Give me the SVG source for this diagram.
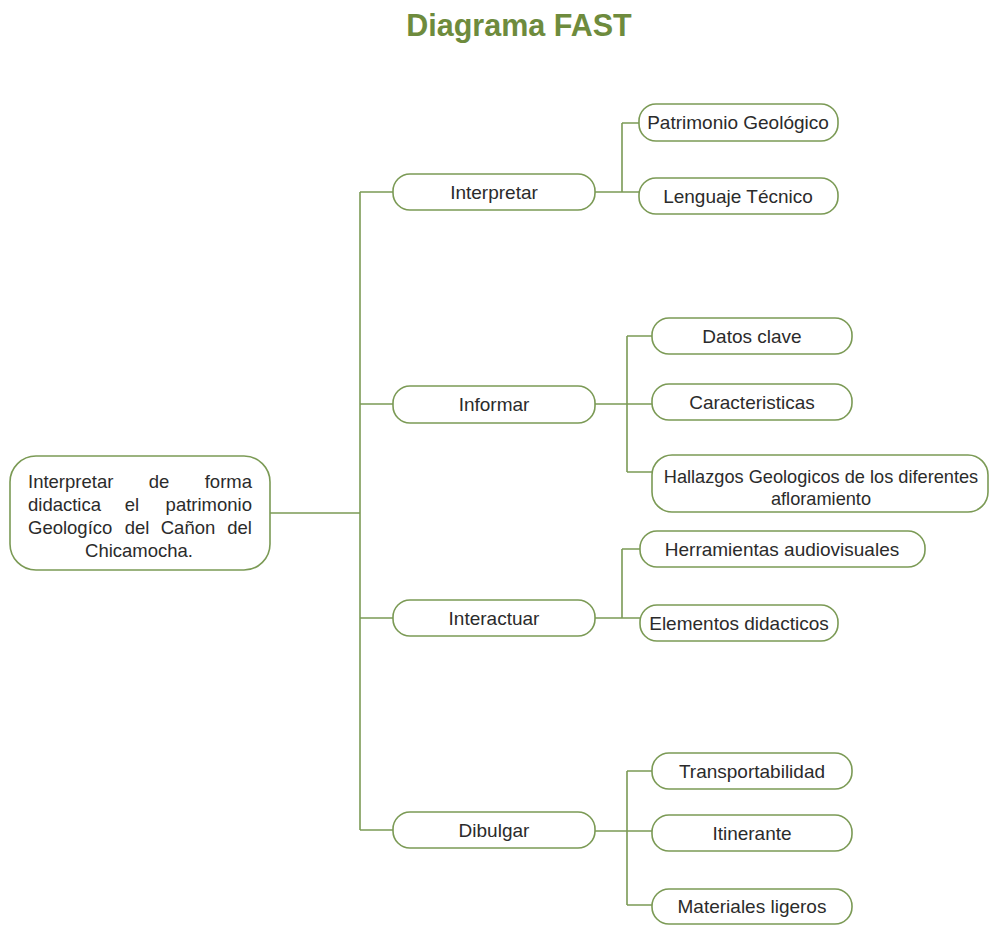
<svg xmlns="http://www.w3.org/2000/svg" width="990" height="925" viewBox="0 0 990 925">
<style>
.bg{fill:#ffffff}
.title{font-family:"Liberation Sans",Arial,sans-serif;font-weight:bold;font-size:30.5px;fill:#6e8b3d;text-anchor:middle}
.box{fill:#ffffff;stroke:#7b9a55;stroke-width:1.6}
.lbl{font-family:"Liberation Sans",Arial,sans-serif;font-size:19px;fill:#2b2b2b;text-anchor:middle}
.sm{font-size:18.2px}
.rt{font-family:"Liberation Sans",Arial,sans-serif;font-size:18.5px;fill:#2b2b2b}
.conn path{fill:none;stroke:#7b9a55;stroke-width:1.6}
</style>
<rect class="bg" x="0" y="0" width="990" height="925"/>
<text class="title" x="519" y="36">Diagrama FAST</text>

<g class="conn" id="connectors">
<path d="M270 513 H360"/>
<path d="M360 192 V830"/>
<path d="M360 192 H393 M360 404 H393 M360 618 H393 M360 830 H393"/>
<path d="M595 192 H639 M622 123 V192 M622 123 H639"/>
<path d="M595 404 H652 M627 336 V472 M627 336 H652 M627 472 H652"/>
<path d="M595 618 H640 M622 549 V618 M622 549 H640"/>
<path d="M595 831 H652 M627 771 V905 M627 771 H652 M627 905 H652"/>
</g>

<g id="root">
<rect class="box" x="10" y="456" width="260" height="114" rx="26"/>
<text class="rt" x="28" y="488">Interpretar</text>
<text class="rt" x="159" y="488" text-anchor="middle">de</text>
<text class="rt" x="252" y="488" text-anchor="end">forma</text>
<text class="rt" x="28" y="511">didactica</text>
<text class="rt" x="132" y="511" text-anchor="middle">el</text>
<text class="rt" x="252" y="511" text-anchor="end">patrimonio</text>
<text class="rt" x="28" y="534">Geologíco</text>
<text class="rt" x="137" y="534" text-anchor="middle">del</text>
<text class="rt" x="188" y="534" text-anchor="middle">Cañon</text>
<text class="rt" x="252" y="534" text-anchor="end">del</text>
<text class="rt" x="139" y="557" text-anchor="middle">Chicamocha.</text>
</g>

<g id="interpretar">
<rect class="box" x="393" y="174" width="202" height="36" rx="17"/>
<text class="lbl" x="494" y="199">Interpretar</text>
</g>
<g id="patrimonio">
<rect class="box" x="639" y="104" width="199" height="37" rx="17"/>
<text class="lbl" x="738" y="129">Patrimonio Geológico</text>
</g>
<g id="lenguaje">
<rect class="box" x="639" y="178" width="199" height="36" rx="17"/>
<text class="lbl" x="738" y="203">Lenguaje Técnico</text>
</g>

<g id="informar">
<rect class="box" x="393" y="386" width="202" height="37" rx="17"/>
<text class="lbl" x="494" y="411">Informar</text>
</g>
<g id="datos">
<rect class="box" x="652" y="318" width="200" height="36" rx="17"/>
<text class="lbl" x="752" y="343">Datos clave</text>
</g>
<g id="caracteristicas">
<rect class="box" x="652" y="384" width="200" height="36" rx="17"/>
<text class="lbl" x="752" y="409">Caracteristicas</text>
</g>
<g id="hallazgos">
<rect class="box" x="652" y="455" width="336" height="57" rx="20"/>
<text class="lbl sm" x="821" y="483">Hallazgos Geologicos de los diferentes</text>
<text class="lbl sm" x="821" y="505">afloramiento</text>
</g>

<g id="interactuar">
<rect class="box" x="393" y="600" width="202" height="36" rx="17"/>
<text class="lbl" x="494" y="625">Interactuar</text>
</g>
<g id="herramientas">
<rect class="box" x="640" y="531" width="285" height="36" rx="17"/>
<text class="lbl" x="782" y="556">Herramientas audiovisuales</text>
</g>
<g id="elementos">
<rect class="box" x="640" y="605" width="198" height="36" rx="17"/>
<text class="lbl" x="739" y="630">Elementos didacticos</text>
</g>

<g id="dibulgar">
<rect class="box" x="393" y="812" width="202" height="36" rx="17"/>
<text class="lbl" x="494" y="837">Dibulgar</text>
</g>
<g id="transportabilidad">
<rect class="box" x="652" y="753" width="200" height="36" rx="17"/>
<text class="lbl" x="752" y="778">Transportabilidad</text>
</g>
<g id="itinerante">
<rect class="box" x="652" y="815" width="200" height="36" rx="17"/>
<text class="lbl" x="752" y="840">Itinerante</text>
</g>
<g id="materiales">
<rect class="box" x="652" y="889" width="200" height="35" rx="17"/>
<text class="lbl" x="752" y="913">Materiales ligeros</text>
</g>
</svg>
